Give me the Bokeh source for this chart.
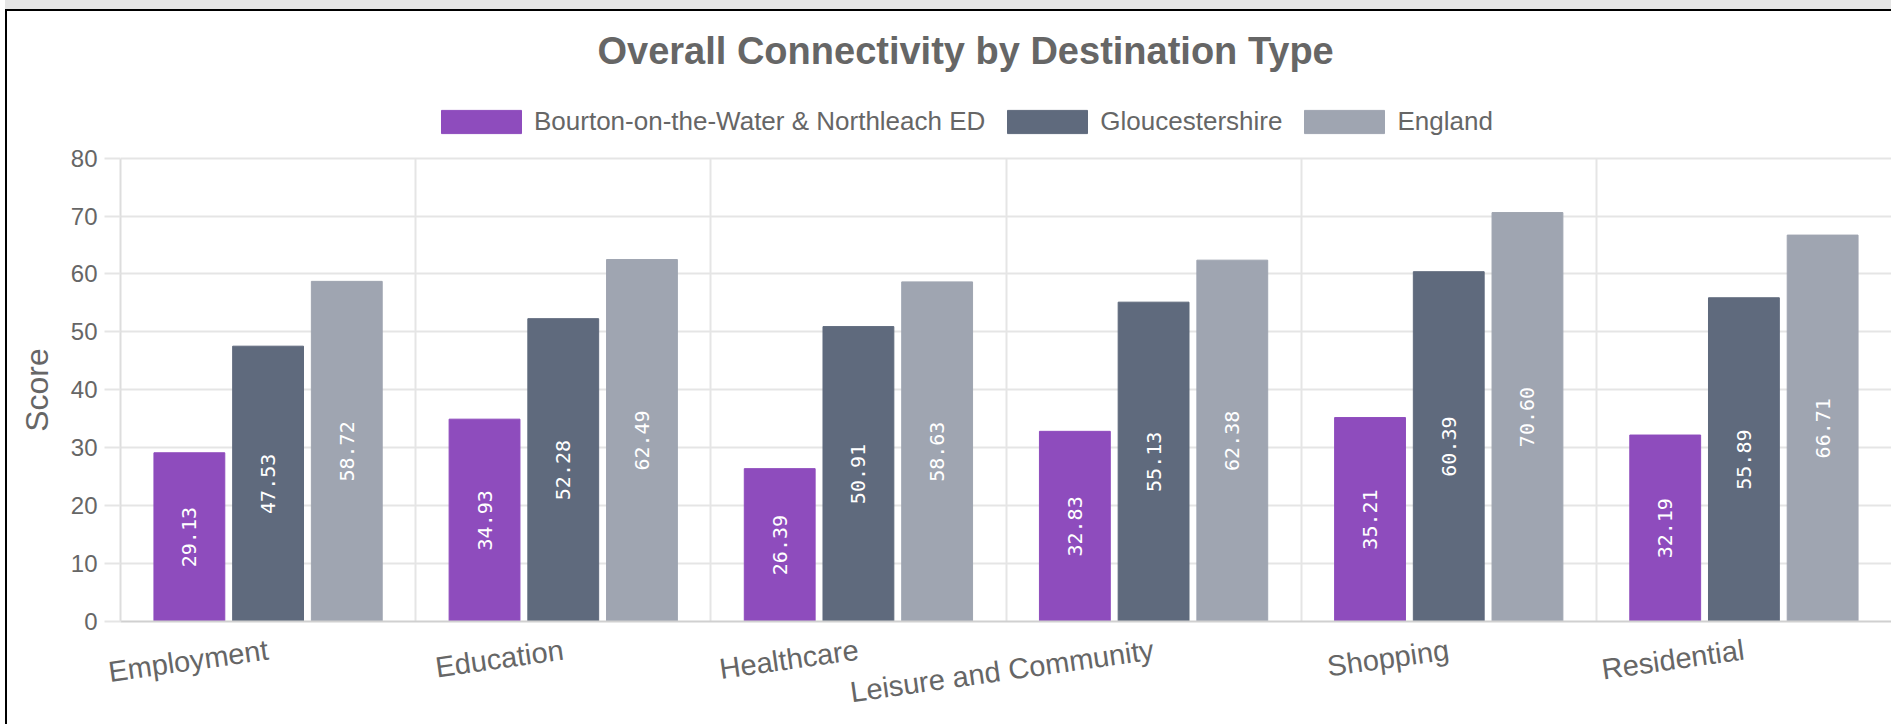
import math
from bokeh.plotting import figure
from bokeh.models import (ColumnDataSource, FactorRange, Range1d, Legend, LegendItem,
                          FixedTicker, Grid)
from bokeh.transform import dodge
from bokeh.core.properties import value
from bokeh.embed import file_html
from bokeh.resources import INLINE

# ---------------- data ----------------
categories = ["Employment", "Education", "Healthcare", "Leisure and Community", "Shopping", "Residential"]
series_names = ["Bourton-on-the-Water & Northleach ED", "Gloucestershire", "England"]
bourton = [29.13, 34.93, 26.39, 32.83, 35.21, 32.19]
gloucestershire = [47.53, 52.28, 50.91, 55.13, 60.39, 55.89]
england = [58.72, 62.49, 58.63, 62.38, 70.60, 66.71]
y_ticks = [0, 10, 20, 30, 40, 50, 60, 70, 80]

colors = ["#8e4cbd", "#5f6a7d", "#9fa5b1"]
series_values = [bourton, gloucestershire, england]
keys = ["s0", "s1", "s2"]

data = {"cat": categories}
for k, vals in zip(keys, series_values):
    data[k] = vals
    data[k + "_half"] = [v / 2 for v in vals]
    data[k + "_lbl"] = ["%.2f" % v for v in vals]
src = ColumnDataSource(data)

# layout (pixels inside the figure)
FIG_W, FIG_H = 1886, 715
FRAME_LEFT, FRAME_TOP, AXIS_TOP, AXIS_BOTTOM = 113, 76, 147, 613
px_per_unit = (AXIS_BOTTOM - AXIS_TOP) / (y_ticks[-1] - y_ticks[0])
y_max = y_ticks[-1] + (AXIS_TOP - FRAME_TOP) / px_per_unit
tick_ext = 11 / px_per_unit

p = figure(x_range=FactorRange(factors=categories, range_padding=0, factor_padding=0),
           y_range=Range1d(y_ticks[0], y_max),
           width=FIG_W, height=FIG_H,
           output_backend="svg", toolbar_location=None,
           min_border_left=FRAME_LEFT, min_border_right=2, min_border_top=FRAME_TOP,
           min_border_bottom=FIG_H - AXIS_BOTTOM,
           title="Overall Connectivity by Destination Type")
p.styles = {"margin-left": "5px", "margin-top": "9px",
            "border-left": "2px solid #000", "border-top": "2px solid #000",
            "box-shadow": "0 -11px 0 0 #e5e5e5"}
p.outline_line_color = None
p.background_fill_color = "white"
p.border_fill_color = "white"

# title
p.title.text_font = "Liberation Sans"
p.title.text_font_style = "bold"
p.title.text_font_size = "38px"
p.title.text_color = "#666666"
p.title.align = "left"
p.title.offset = 477
p.title.standoff = 31

# grids
p.ygrid.ticker = FixedTicker(ticks=y_ticks)
p.ygrid.grid_line_color = "#e5e5e5"
p.ygrid.grid_line_width = 2
boundaries = list(range(len(categories) + 1))
if "cross_bounds" in Grid.properties():
    p.xgrid.ticker = FixedTicker(ticks=boundaries)
    p.xgrid.cross_bounds = (y_ticks[0], y_ticks[-1])
    p.xgrid.grid_line_color = "#e5e5e5"
    p.xgrid.grid_line_width = 2
else:
    p.xgrid.grid_line_color = None
    inner = boundaries[1:-1]
    p.segment(x0=inner, x1=inner, y0=[y_ticks[0]] * len(inner),
              y1=[y_ticks[-1]] * len(inner), line_color="#e5e5e5", line_width=2, level="underlay")

slot = 0.8 / len(series_names)
offsets = [(i - (len(series_names) - 1) / 2) * slot for i in range(len(series_names))]
bar_w = slot * 0.9

items = []
for k, name, c, off in zip(keys, series_names, colors, offsets):
    r = p.vbar(x=dodge("cat", off, range=p.x_range), top=k, width=bar_w, source=src,
               fill_color=c, line_color=c, line_width=1)
    items.append(LegendItem(label=name, renderers=[r]))
    p.text(x=dodge("cat", off, range=p.x_range), y=k + "_half", text=k + "_lbl", source=src,
           angle=math.pi / 2, text_align="center", text_baseline="middle",
           text_color="white", text_font=value("DejaVu Sans Mono"), text_font_size="20px")

legend = Legend(items=items, orientation="horizontal", location=(311, 484),
                glyph_width=100, glyph_height=29, label_height=29, label_standoff=3, spacing=12,
                padding=0, margin=0,
                label_text_font="Liberation Sans", label_text_font_size="26px",
                label_text_color="#666666", label_text_baseline="middle",
                border_line_color=None, background_fill_alpha=0)
p.add_layout(legend)

# y axis
p.yaxis.ticker = FixedTicker(ticks=y_ticks)
p.yaxis.bounds = (y_ticks[0] - tick_ext, y_ticks[-1])
p.yaxis.axis_label = "Score" + "\u00a0" * 8
p.yaxis.axis_label_text_font = "Liberation Sans"
p.yaxis.axis_label_text_font_size = "32px"
p.yaxis.axis_label_text_font_style = "normal"
p.yaxis.axis_label_text_color = "#666666"
p.yaxis.axis_label_standoff = 13
p.yaxis.major_label_text_font = "Liberation Sans"
p.yaxis.major_label_text_font_size = "24px"
p.yaxis.major_label_text_color = "#666666"
p.yaxis.major_label_standoff = 7
p.yaxis.major_tick_out = 16
p.yaxis.major_tick_in = 0
p.yaxis.major_tick_line_color = "#e5e5e5"
p.yaxis.major_tick_line_width = 2
p.yaxis.minor_tick_line_color = None
p.yaxis.axis_line_color = "#dddddd"
p.yaxis.axis_line_width = 2

# x axis
p.xaxis.major_label_orientation = 0.14
p.xaxis.major_label_text_font = "Liberation Sans"
p.xaxis.major_label_text_font_size = "29px"
p.xaxis.major_label_text_color = "#666666"
p.xaxis.major_label_standoff = 28
p.xaxis.major_tick_line_color = None
p.xaxis.major_tick_out = 0
p.xaxis.major_tick_in = 0
p.xaxis.minor_tick_line_color = None
p.xaxis.axis_line_color = "#d0d0d0"
p.xaxis.axis_line_width = 2

open("out.html", "w").write(file_html(p, INLINE))
